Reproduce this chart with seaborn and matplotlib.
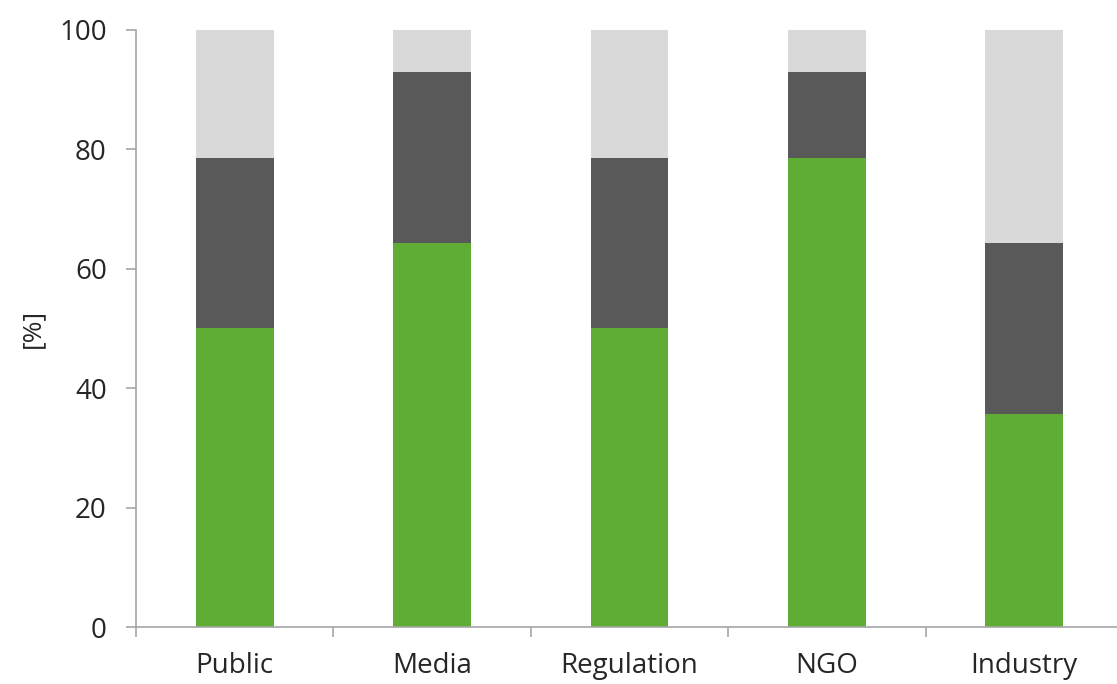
import numpy as np
import pandas as pd
import seaborn as sns
import matplotlib.pyplot as plt
from matplotlib.ticker import FixedLocator

# values (shares in %)
categories = ["Public", "Media", "Regulation", "NGO", "Industry"]
green_part = [50.0, 64.3, 50.0, 78.6, 35.7]
dark_part = [28.6, 28.6, 28.6, 14.3, 28.6]
light_part = [21.4, 7.1, 21.4, 7.1, 35.7]

colors = ["#5FAD35", "#595959", "#D9D9D9"]

sns.set_style("white")
plt.rcParams["font.family"] = ["Open Sans", "DejaVu Sans"]

df = pd.DataFrame({"category": categories,
                   "green": green_part, "dark": dark_part, "light": light_part})
df["c1"] = df["green"]
df["c2"] = df["green"] + df["dark"]
df["c3"] = df["c2"] + df["light"]

fig = plt.figure(figsize=(11.17, 6.84), dpi=100)
ax = fig.add_axes([136 / 1117, 1 - 627 / 684, 987 / 1117, 597 / 684])

# overlay cumulative totals, tallest first
for col, c in zip(["c3", "c2", "c1"], colors[::-1]):
    sns.barplot(data=df, x="category", y=col, color=c, width=0.395,
                saturation=1, linewidth=0, ax=ax)

ax.set_xlim(-0.5, 4.5)
ax.set_ylim(0, 100)
ax.set_yticks([0, 20, 40, 60, 80, 100])
ax.set_xlabel("")
ax.set_ylabel("[%]", fontsize=19, labelpad=10)

for s in ["top", "right"]:
    ax.spines[s].set_visible(False)
for s in ["left", "bottom"]:
    ax.spines[s].set_color("#A6A6A6")
    ax.spines[s].set_linewidth(1.2)

ax.tick_params(axis="y", direction="out", length=7, width=1.2, color="#A6A6A6",
               labelsize=20, pad=14, left=True)
ax.tick_params(axis="x", which="major", length=0, labelsize=20, pad=18)
ax.xaxis.set_minor_locator(FixedLocator(np.arange(-0.5, 5, 1.0)))
ax.tick_params(axis="x", which="minor", direction="out", length=7, width=1.2,
               color="#A6A6A6", bottom=True)

fig.savefig("out.png", dpi=100)
